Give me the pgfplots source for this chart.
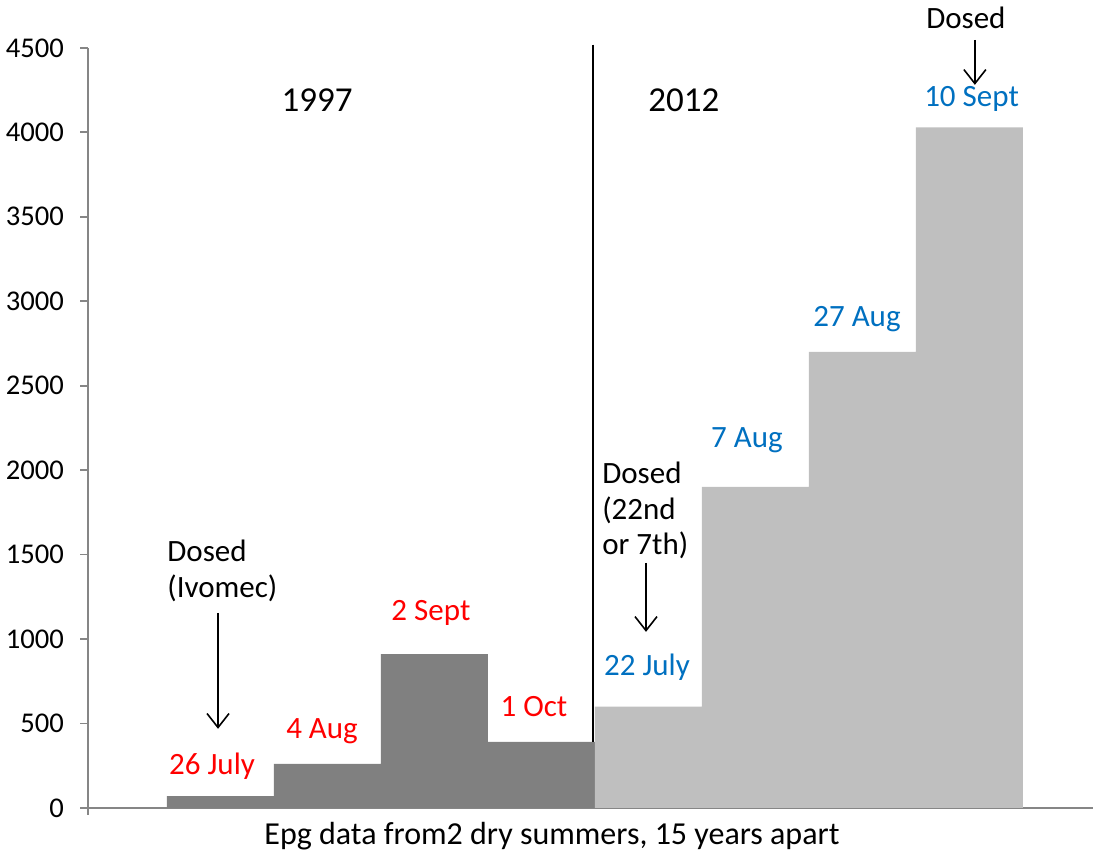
\documentclass[border=0pt]{standalone}
\usepackage{pgfplots}
\pgfplotsset{compat=1.18}
\usetikzlibrary{arrows.meta}
\usepackage{fontspec}
\setmainfont{Carlito}
\definecolor{dgray}{RGB}{128,128,128}
\definecolor{lgray}{RGB}{191,191,191}
\definecolor{axgray}{RGB}{134,134,134}
\definecolor{lblred}{RGB}{255,0,0}
\definecolor{lblblue}{RGB}{0,112,192}
\begin{document}
\begin{tikzpicture}
\begin{axis}[
  scale only axis,
  width=502.5pt, height=380pt,
  xmin=-1.238, xmax=8.155,
  ymin=0, ymax=4500,
  axis x line=bottom, axis y line=left,
  axis line style={draw=axgray, line width=0.9pt, -},
  xtick=\empty,
  ytick={0,500,...,4500},
  tick style={draw=axgray, line width=0.9pt},
  y tick label style={font=\fontsize{14.3}{16}\selectfont, /pgf/number format/assume math mode=true, xshift=-4.5pt},
  yticklabel style={/pgf/number format/1000 sep={}},
  major tick length=4pt,
  tick align=outside,
  ybar, bar width=1, bar shift=0,
  clip=false,
]
\addplot[fill=dgray, draw=none] coordinates {(0,70) (1,260) (2,910) (3,390)};
\addplot[fill=lgray, draw=none] coordinates {(4,600) (5,1900) (6,2700) (7,4030)};
\draw[black, line width=0.8pt] (axis cs:3.48,4520) -- (axis cs:3.48,390);
\draw[axgray, line width=0.9pt] (axis cs:-1.238,0) -- (axis cs:-1.238,-40);
% year labels
\node[font=\fontsize{17.5}{20}\selectfont] at (axis cs:0.902,4192) {1997};
\node[font=\fontsize{17.5}{20}\selectfont] at (axis cs:4.332,4192) {2012};
% date labels
\begin{scope}[every node/.style={font=\fontsize{15.5}{18}\selectfont}]
\node[text=lblred] at (axis cs:-0.079,249) {26 July};
\node[text=lblred] at (axis cs:0.949,456) {4 Aug};
\node[text=lblred] at (axis cs:1.967,1155) {2 Sept};
\node[text=lblred] at (axis cs:2.93,598) {1 Oct};
\node[text=lblblue] at (axis cs:3.986,835) {22 July};
\node[text=lblblue] at (axis cs:4.92,2179) {7 Aug};
\node[text=lblblue] at (axis cs:5.949,2895) {27 Aug};
\node[text=lblblue] at (axis cs:7.02,4195) {10 Sept};
\node at (axis cs:6.967,4678) {Dosed};
\node[anchor=north west, align=left, inner sep=0pt, font=\fontsize{15.5}{17.8}\selectfont] at (axis cs:-0.5,1587) {Dosed\\(Ivomec)};
\node[anchor=north west, align=left, inner sep=0pt, font=\fontsize{15.5}{17.8}\selectfont] at (axis cs:3.565,2049) {Dosed\\(22nd\\or 7th)};
\end{scope}
% arrows
\begin{scope}[-{Straight Barb[length=7pt,width=11pt,line width=0.8pt]}, line width=0.8pt]
\draw (axis cs:-0.023,1155) -- (axis cs:-0.023,468);
\draw (axis cs:3.977,1451) -- (axis cs:3.977,1042);
\draw (axis cs:7.051,4547) -- (axis cs:7.051,4281);
\end{scope}
% x label
\node[font=\fontsize{16}{19}\selectfont] at (axis cs:3.098,-166) {Epg data from2 dry summers, 15 years apart};
\coordinate (bl) at (rel axis cs:-0.0876,-0.0632);
\coordinate (tr) at (rel axis cs:1,1.063);
\end{axis}
\pgfresetboundingbox
\path[use as bounding box] (bl) rectangle (tr);
\end{tikzpicture}
\end{document}
